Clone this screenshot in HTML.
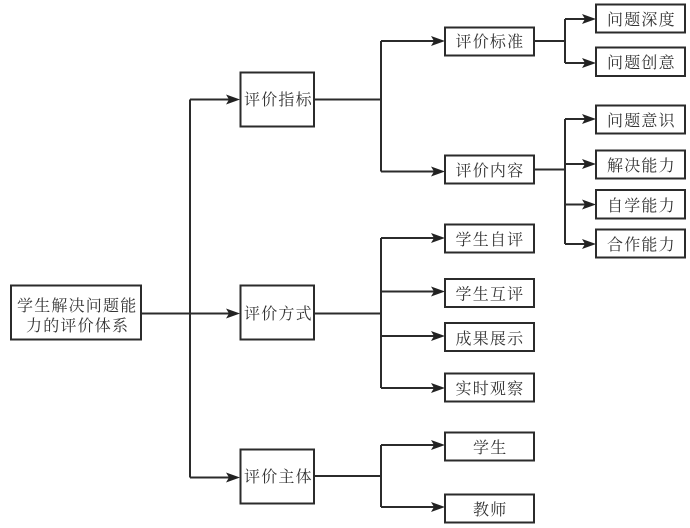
<!DOCTYPE html>
<html lang="zh">
<head>
<meta charset="utf-8">
<title>学生解决问题能力的评价体系</title>
<style>
html,body{margin:0;padding:0;background:#fff;}
svg{display:block;}
text{font-family:"Liberation Serif","Noto Serif CJK SC",serif;font-size:16px;fill:#333;letter-spacing:1.2px;}
rect{fill:#fff;stroke:#2b2b2b;stroke-width:2;}
.l{fill:none;stroke:#2b2b2b;stroke-width:2;}
.a{fill:#222;}
</style>
</head>
<body>
<svg width="690" height="528" viewBox="0 0 690 528" xmlns="http://www.w3.org/2000/svg">
<defs><path id="h" class="a" d="M0 0l-14-5 3 5-3 5z"/></defs>
<!-- connectors -->
<path class="l" d="M141 313.5H232M190 99.5V477.5M190 99.5H232M190 477.5H232"/>
<path class="l" d="M314 99.5H381M381 41V171.5M381 41H437M381 171.5H437"/>
<path class="l" d="M314 313.5H381M381 238V388M381 238H437M381 291.5H437M381 336H437M381 388H437"/>
<path class="l" d="M314 476H381M381 445V507M381 445H437M381 507H437"/>
<path class="l" d="M534 41H565M565 19V63M565 19H587M565 63H587"/>
<path class="l" d="M534 169.5H565M565 119V244M565 119H587M565 164H587M565 204.5H587M565 244H587"/>
<!-- arrowheads -->
<use href="#h" x="240" y="99.5"/>
<use href="#h" x="240" y="313.5"/>
<use href="#h" x="240" y="477.5"/>
<use href="#h" x="445" y="41"/>
<use href="#h" x="445" y="171.5"/>
<use href="#h" x="445" y="238"/>
<use href="#h" x="445" y="291.5"/>
<use href="#h" x="445" y="336"/>
<use href="#h" x="445" y="388"/>
<use href="#h" x="445" y="445"/>
<use href="#h" x="445" y="507"/>
<use href="#h" x="596" y="19"/>
<use href="#h" x="596" y="63"/>
<use href="#h" x="596" y="119"/>
<use href="#h" x="596" y="164"/>
<use href="#h" x="596" y="204.5"/>
<use href="#h" x="596" y="244"/>
<!-- root -->
<rect x="11" y="285.5" width="130" height="54"/>
<text x="17" y="311">学生解决问题能</text>
<text x="26" y="331">力的评价体系</text>
<!-- level 1 -->
<rect x="240.5" y="72.5" width="73.5" height="54"/>
<text x="244" y="105">评价指标</text>
<rect x="240.5" y="285.5" width="73.5" height="54"/>
<text x="244" y="319">评价方式</text>
<rect x="240.5" y="449.5" width="73.5" height="54"/>
<text x="244" y="482">评价主体</text>
<!-- level 2 -->
<rect x="445" y="27.5" width="89" height="28"/>
<text x="455.5" y="47">评价标准</text>
<rect x="445" y="155.5" width="89" height="28"/>
<text x="455.5" y="176">评价内容</text>
<rect x="445" y="224.5" width="89" height="28"/>
<text x="455.5" y="245">学生自评</text>
<rect x="445" y="279" width="89" height="28"/>
<text x="455.5" y="299.5">学生互评</text>
<rect x="445" y="323" width="89" height="28"/>
<text x="455.5" y="344">成果展示</text>
<rect x="445" y="373.5" width="89" height="28"/>
<text x="455.5" y="394">实时观察</text>
<rect x="445" y="432.5" width="89" height="28"/>
<text x="473" y="453">学生</text>
<rect x="445" y="494.5" width="89" height="28"/>
<text x="473" y="515">教师</text>
<!-- level 3 -->
<rect x="596" y="4.5" width="89" height="28"/>
<text x="607" y="25">问题深度</text>
<rect x="596" y="47.5" width="89" height="28.5"/>
<text x="607" y="68">问题创意</text>
<rect x="596" y="105.5" width="89" height="28"/>
<text x="607" y="126">问题意识</text>
<rect x="596" y="150.5" width="89" height="28"/>
<text x="607" y="171">解决能力</text>
<rect x="596" y="190" width="89" height="28.5"/>
<text x="607" y="211">自学能力</text>
<rect x="596" y="229.5" width="89" height="28"/>
<text x="607" y="250">合作能力</text>
</svg>
</body>
</html>
